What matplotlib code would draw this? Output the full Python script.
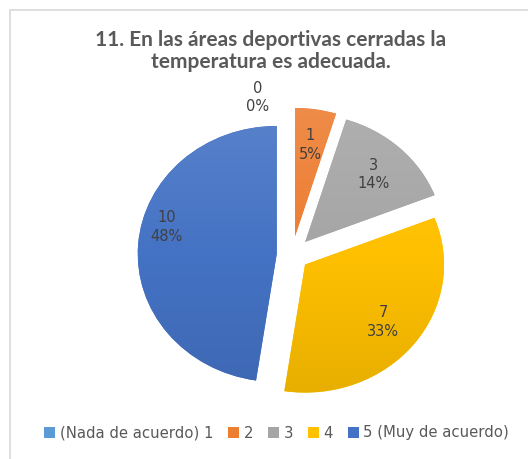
import numpy as np
import matplotlib.pyplot as plt
from matplotlib.colors import LinearSegmentedColormap, to_rgb
from matplotlib.patches import Rectangle

categories = ["(Nada de acuerdo) 1", "2", "3", "4", "5 (Muy de acuerdo)"]
counts = [0, 1, 3, 7, 10]
colors = ["#5B9BD5", "#ED7D31", "#A5A5A5", "#FFC000", "#4472C4"]
explode = [0.12, 0.15, 0.14, 0.12, 0.11]
title = "11. En las áreas deportivas cerradas la\ntemperatura es adecuada."

total = sum(counts)


def shade(c, f):
    # f > 0 lightens toward white, f < 0 darkens toward black
    c = np.array(to_rgb(c))
    return c + (1 - c) * f if f > 0 else c * (1 + f)


fig = plt.figure(figsize=(5.28, 4.59), dpi=100)
ax = fig.add_axes([0, 0, 1, 1])

wedges, texts, autotexts = ax.pie(
    counts, colors=colors, explode=explode, startangle=90, counterclock=False,
    autopct=lambda p: f"{round(p * total / 100)}\n{p:.0f}%", pctdistance=0.72,
    textprops=dict(color="#404040", fontsize=10.5, linespacing=1.3, zorder=5),
    wedgeprops=dict(linewidth=0),
)

# soft vertical gradient on every slice, like the Excel style
grad = np.linspace(0, 1, 256).reshape(-1, 1)
for w, c in zip(wedges, colors):
    cmap = LinearSegmentedColormap.from_list("g", [shade(c, 0.12), shade(c, 0.0), shade(c, -0.1)])
    im = ax.imshow(grad, cmap=cmap, extent=(-1.3, 1.3, -1.2, 1.2), origin="upper",
                   aspect="auto", zorder=2)
    im.set_clip_path(w)

# Excel-style placement for the zero slice and the big blue slice
autotexts[0].set_position((-0.245, 1.23))
autotexts[4].set_position((-0.9, 0.22))

# pie is slightly stretched horizontally in the reference
ax.set_aspect("auto")
ax.set_xlim(-292 / 139, (528 - 292) / 139)
ax.set_ylim(-204 / 128, (459 - 204) / 128)
ax.axis("off")

fig.text(271 / 528, 1 - 51 / 459, title, ha="center", va="center",
         fontsize=15, fontweight="bold", color="#595959", family="Lato",
         linespacing=1.07)

ax.legend(wedges, categories, loc="center", bbox_to_anchor=(0.524, 26 / 459),
          ncol=5, frameon=False, handlelength=0.75, handleheight=0.75,
          handletextpad=0.3, columnspacing=1.0, fontsize=10.7,
          labelcolor="#595959")

fig.patches.append(Rectangle((10 / 528, -0.1), 1.0, 1.1 - 10 / 459,
                             transform=fig.transFigure, fill=False,
                             edgecolor="#D9D9D9", linewidth=1.2))

fig.savefig("out.png", dpi=100)
